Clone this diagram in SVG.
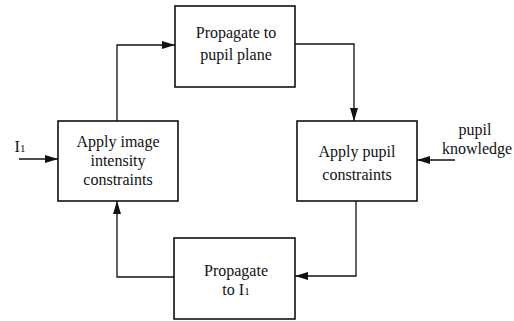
<svg xmlns="http://www.w3.org/2000/svg" width="514" height="321" viewBox="0 0 514 321">
<style>
.box{fill:#fff;stroke:#111;stroke-width:1.6}
.t{font-family:"Liberation Serif","DejaVu Serif",serif;font-size:16px;fill:#111;text-anchor:middle}
.c{fill:none;stroke:#111;stroke-width:1.3}
</style>
<defs>
<marker id="ah" viewBox="0 0 13 8" refX="13" refY="4" markerWidth="13" markerHeight="8" markerUnits="userSpaceOnUse" orient="auto">
<path d="M0,0 L13,4 L0,8 Z" fill="#111"/>
</marker>
</defs>
<rect width="514" height="321" fill="#fff"/>
<g id="connectors">
<path class="c" d="M117,121 V45 H175" marker-end="url(#ah)"/>
<path class="c" d="M295,44 H354 V121" marker-end="url(#ah)"/>
<path class="c" d="M356,201 V276 H295" marker-end="url(#ah)"/>
<path class="c" d="M174,277 H117 V201" marker-end="url(#ah)"/>
<path class="c" d="M19,159 H58" marker-end="url(#ah)"/>
<path class="c" d="M455,160 H417" marker-end="url(#ah)"/>
</g>
<g id="propagate-pupil">
<rect class="box" x="175" y="6" width="120" height="81"/>
<text class="t" x="236" y="38">Propagate to</text>
<text class="t" x="236" y="60">pupil plane</text>
</g>
<g id="apply-image">
<rect class="box" x="58" y="121" width="120" height="80"/>
<text class="t" x="118" y="147">Apply image</text>
<text class="t" x="118" y="166">intensity</text>
<text class="t" x="118" y="185">constraints</text>
</g>
<g id="apply-pupil">
<rect class="box" x="297" y="121" width="120" height="80"/>
<text class="t" x="357" y="157">Apply pupil</text>
<text class="t" x="357" y="180">constraints</text>
</g>
<g id="propagate-i1">
<rect class="box" x="174" y="238" width="121" height="81"/>
<text class="t" x="236" y="276">Propagate</text>
<text class="t" x="236" y="295">to I<tspan font-size="11">1</tspan></text>
</g>
<g id="input-i1">
<text class="t" x="20" y="152">I<tspan font-size="11">1</tspan></text>
</g>
<g id="input-pupil-knowledge">
<text class="t" x="475" y="135">pupil</text>
<text class="t" x="477" y="154">knowledge</text>
</g>
</svg>
